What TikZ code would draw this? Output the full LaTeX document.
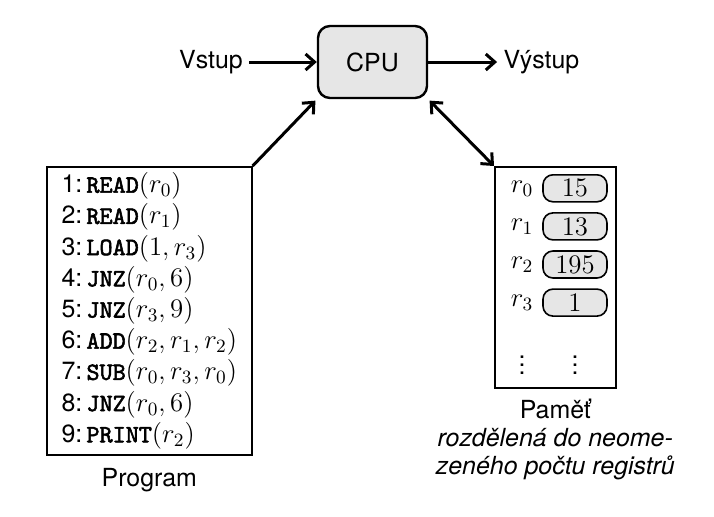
\RequirePackage{fix-cm}
\documentclass[tikz,border=0pt]{standalone}
\usepackage{fontspec}
\setmainfont{TeX Gyre Heros}[Scale=0.93]
\newfontfamily\kwfont{lmmono10-regular.otf}[FakeBold=2.2, Scale=0.93]
\usetikzlibrary{arrows.meta,positioning}
\definecolor{cellgray}{HTML}{E6E6E6}
\newcommand{\kw}[1]{{\kwfont #1}}
\tikzset{
        cpu_box/.style={draw=black, line width=1.2pt, fill=cellgray, rounded corners=6pt,
                        minimum width=54.5pt, minimum height=36pt},
        prog_box/.style={draw=black, line width=0.8pt, minimum width=102.5pt, minimum height=144pt,
                         anchor=north west, align=left, inner sep=0pt},
        mem_box/.style={draw=black, line width=0.8pt, minimum width=60.5pt, minimum height=110.5pt,
                        anchor=north west, inner sep=0pt},
        reg_cell/.style={draw=black, line width=0.8pt, fill=cellgray, rounded corners=5pt,
                         minimum width=32pt, minimum height=13.5pt, inner sep=0pt},
        reg_name/.style={inner sep=0pt},
        flow_tip/.style={line width=1.5pt},
        flow_arrow/.style={flow_tip, -{Straight Barb[length=4.5pt,width=8pt]}},
        caption_text/.style={align=center, font=\fontsize{13.4}{14}\selectfont}
    }

\begin{document}
\begin{tikzpicture}[x=0.5pt, y=-0.5pt, font=\fontsize{13.4}{15.6}\selectfont]
    \useasboundingbox (0,0) rectangle (714,516);
    % procesor, vstup a vystup
    \node[cpu_box] (cpu) at (372.5,62) {CPU};
    \node (vstup) at (211,62) {Vstup};
    \node (vystup) at (541.5,62) {Výstup};
    \draw[flow_arrow] (vstup) -- (cpu);
    \draw[flow_arrow] (cpu) -- (vystup);
    % program
    \node[prog_box] (prog) at (46,166) {%
        1:\,\kw{READ}$(r_0)$\\
        2:\,\kw{READ}$(r_1)$\\
        3:\,\kw{LOAD}$(1, r_3)$\\
        4:\,\kw{JNZ}$(r_0, 6)$\\
        5:\,\kw{JNZ}$(r_3, 9)$\\
        6:\,\kw{ADD}$(r_2, r_1, r_2)$\\
        7:\,\kw{SUB}$(r_0, r_3, r_0)$\\
        8:\,\kw{JNZ}$(r_0, 6)$\\
        9:\,\kw{PRINT}$(r_2)$};
    \node[below=3pt of prog] (proglabel) {Program};
    \draw[flow_arrow, shorten >=1pt] (prog.north east) -- (cpu.south west);
    % pamet s registry
    \node[mem_box] (mem) at (494,166) {};
    \foreach \v [count=\i from 0] in {15,13,195,1} {
        \node[reg_cell] (cell\i) at (575, 188.3+38.1*\i) {$\v$};
        \node[reg_name] (reg\i) at (522, 188.3+38.1*\i) {$r_\i$};
    }
    \node (dotsl) at (522,359) {$\vdots$};
    \node (dotsr) at (575,359) {$\vdots$};
    \node[caption_text, below=2pt of mem] (memlabel)
        {Paměť\\ \textit{rozdělená do neome-}\\ \textit{zeného počtu registrů}};
    \draw[flow_tip, {Straight Barb[length=4.5pt,width=8pt]}-{Straight Barb[length=4.5pt,width=8pt]},
          shorten >=1pt] (mem.north west) -- (cpu.south east);
\end{tikzpicture}
\end{document}
